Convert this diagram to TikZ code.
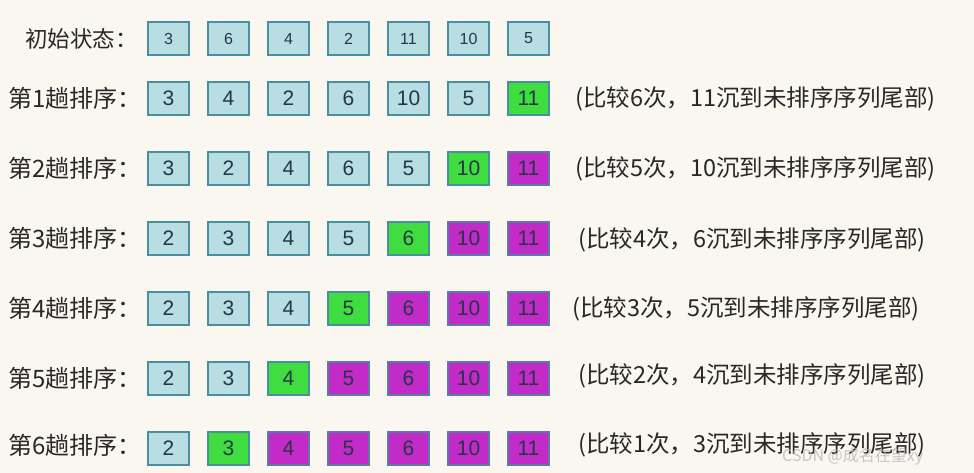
\documentclass[tikz,border=0pt]{standalone}
\usepackage{fontspec}
\setmainfont{Liberation Sans}
\newfontfamily\cjk{Noto Sans CJK SC}
\usetikzlibrary{positioning}
\definecolor{bgcolor}{RGB}{250,247,241}
\definecolor{cellfill}{RGB}{184,221,227}
\definecolor{cellline}{RGB}{74,143,160}
\definecolor{sunkfill}{RGB}{64,221,64}
\definecolor{sortedfill}{RGB}{195,43,200}
\definecolor{sortedline}{RGB}{90,122,170}
\definecolor{numcolor}{RGB}{35,55,70}
\definecolor{labelcolor}{RGB}{40,40,40}

\begin{document}
\begin{tikzpicture}[
    x=1pt, y=-1pt,
    cell/.style={draw=cellline, line width=1.6pt, fill=cellfill, minimum width=41pt, minimum height=33pt, inner sep=0pt, text=numcolor, font=\fontsize{21}{21}\selectfont},
    initcell/.style={cell, font=\fontsize{16}{16}\selectfont},
    sunk/.style={cell, fill=sunkfill},
    sorted/.style={cell, fill=sortedfill, draw=sortedline},
    rowlabel/.style={anchor=west, inner sep=0pt, text=labelcolor, font=\cjk\fontsize{24}{24}\selectfont},
    note/.style={anchor=west, inner sep=0pt, text=labelcolor, font=\cjk\fontsize{23.5}{24}\selectfont}
]
    \fill[bgcolor] (0,0) rectangle (974,473);
    \useasboundingbox (0,0) rectangle (974,473);

    % Initial state
    \node[rowlabel, font=\cjk\fontsize{22.5}{23}\selectfont] (init) at (25,38.5) {初始状态：};
    \node[initcell] (r0a) at (168.5,38.5) {3};
    \node[initcell] (r0b) at (228.5,38.5) {6};
    \node[initcell] (r0c) at (288.5,38.5) {4};
    \node[initcell] (r0d) at (348.5,38.5) {2};
    \node[initcell] (r0e) at (408.5,38.5) {11};
    \node[initcell] (r0f) at (468.5,38.5) {10};
    \node[initcell] (r0g) at (528.5,38.5) {5};

    % Pass 1
    \node[rowlabel] (pass1) at (8,98.5) {第1趟排序：};
    \node[cell] (r1a) at (168.5,98.5) {3};
    \node[cell] (r1b) at (228.5,98.5) {4};
    \node[cell] (r1c) at (288.5,98.5) {2};
    \node[cell] (r1d) at (348.5,98.5) {6};
    \node[cell] (r1e) at (408.5,98.5) {10};
    \node[cell] (r1f) at (468.5,98.5) {5};
    \node[sunk] (r1g) at (528.5,98.5) {11};
    \node[note] (note1) at (575,98.5) {(比较6次，11沉到未排序序列尾部)};

    % Pass 2
    \node[rowlabel] (pass2) at (8,168.5) {第2趟排序：};
    \node[cell] (r2a) at (168.5,168.5) {3};
    \node[cell] (r2b) at (228.5,168.5) {2};
    \node[cell] (r2c) at (288.5,168.5) {4};
    \node[cell] (r2d) at (348.5,168.5) {6};
    \node[cell] (r2e) at (408.5,168.5) {5};
    \node[sunk] (r2f) at (468.5,168.5) {10};
    \node[sorted] (r2g) at (528.5,168.5) {11};
    \node[note] (note2) at (575,168.5) {(比较5次，10沉到未排序序列尾部)};

    % Pass 3
    \node[rowlabel] (pass3) at (8,238.5) {第3趟排序：};
    \node[cell] (r3a) at (168.5,238.5) {2};
    \node[cell] (r3b) at (228.5,238.5) {3};
    \node[cell] (r3c) at (288.5,238.5) {4};
    \node[cell] (r3d) at (348.5,238.5) {5};
    \node[sunk] (r3e) at (408.5,238.5) {6};
    \node[sorted] (r3f) at (468.5,238.5) {10};
    \node[sorted] (r3g) at (528.5,238.5) {11};
    \node[note] (note3) at (578,240) {(比较4次，6沉到未排序序列尾部)};

    % Pass 4
    \node[rowlabel] (pass4) at (8,308.5) {第4趟排序：};
    \node[cell] (r4a) at (168.5,308.5) {2};
    \node[cell] (r4b) at (228.5,308.5) {3};
    \node[cell] (r4c) at (288.5,308.5) {4};
    \node[sunk] (r4d) at (348.5,308.5) {5};
    \node[sorted] (r4e) at (408.5,308.5) {6};
    \node[sorted] (r4f) at (468.5,308.5) {10};
    \node[sorted] (r4g) at (528.5,308.5) {11};
    \node[note] (note4) at (572,308.5) {(比较3次，5沉到未排序序列尾部)};

    % Pass 5
    \node[rowlabel] (pass5) at (8,378.5) {第5趟排序：};
    \node[cell] (r5a) at (168.5,378.5) {2};
    \node[cell] (r5b) at (228.5,378.5) {3};
    \node[sunk] (r5c) at (288.5,378.5) {4};
    \node[sorted] (r5d) at (348.5,378.5) {5};
    \node[sorted] (r5e) at (408.5,378.5) {6};
    \node[sorted] (r5f) at (468.5,378.5) {10};
    \node[sorted] (r5g) at (528.5,378.5) {11};
    \node[note] (note5) at (578,376) {(比较2次，4沉到未排序序列尾部)};

    % Pass 6
    \node[rowlabel] (pass6) at (8,445) {第6趟排序：};
    \node[cell] (r6a) at (168.5,448.5) {2};
    \node[sunk] (r6b) at (228.5,448.5) {3};
    \node[sorted] (r6c) at (288.5,448.5) {4};
    \node[sorted] (r6d) at (348.5,448.5) {5};
    \node[sorted] (r6e) at (408.5,448.5) {6};
    \node[sorted] (r6f) at (468.5,448.5) {10};
    \node[sorted] (r6g) at (528.5,448.5) {11};
    \node[note] (note6) at (578,445) {(比较1次，3沉到未排序序列尾部)};

    % Watermark
    \node[anchor=west, inner sep=0pt, text=gray!55, opacity=0.8, font=\cjk\fontsize{16}{16}\selectfont] (mark) at (782,457) {CSDN @成名在望xy};
\end{tikzpicture}
\end{document}
